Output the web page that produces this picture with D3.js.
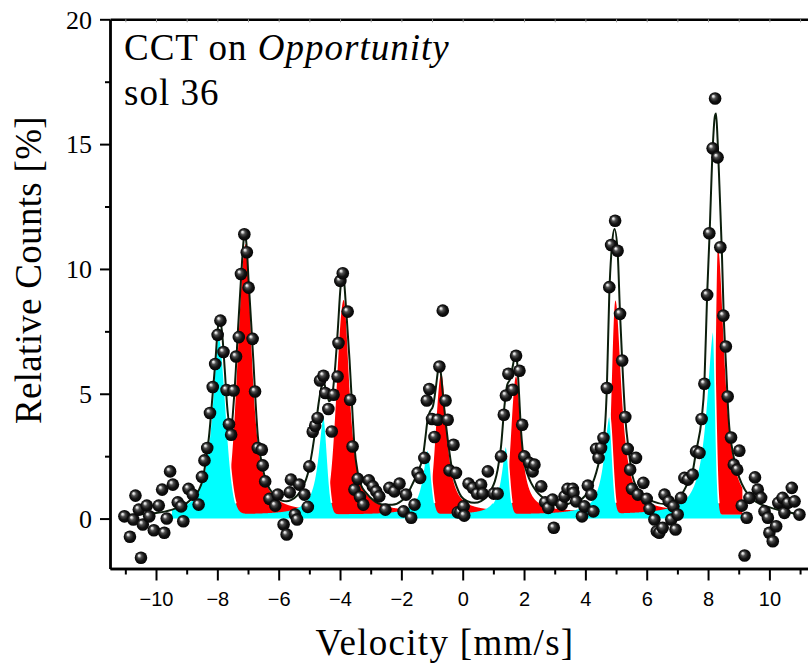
<!DOCTYPE html>
<html>
<head>
<meta charset="utf-8">
<script src="https://cdn.jsdelivr.net/npm/d3@7/dist/d3.min.js"></script>
<style>
  html, body { margin: 0; padding: 0; background: #fff; }
  svg { display: block; }
  .serif { font-family: "Liberation Serif", "Times New Roman", serif; }
  .sans { font-family: "Liberation Sans", Arial, sans-serif; }
</style>
</head>
<body>
<svg id="chart" width="808" height="665"></svg>
<script>
// measured spectrum, velocity [mm/s] and relative counts [%]
var velocity = [-11.03,-10.85,-10.74,-10.67,-10.56,-10.49,-10.43,-10.30,-10.22,-10.07,-9.91,-9.80,-9.73,-9.65,-9.54,-9.45,-9.29,-9.18,-9.11,-8.94,
  -8.80,-8.61,-8.50,-8.42,-8.33,-8.24,-8.15,-8.07,-7.99,-7.90,-7.80,-7.70,-7.62,-7.55,-7.47,-7.39,-7.30,-7.23,-7.12,-7.04,
  -6.98,-6.85,-6.77,-6.68,-6.55,-6.52,-6.44,-6.30,-6.11,-6.03,-5.84,-5.74,-5.64,-5.60,-5.47,-5.40,-5.33,-5.16,-5.05,-5.00,
  -4.89,-4.81,-4.73,-4.65,-4.54,-4.48,-4.38,-4.27,-4.21,-4.08,-4.05,-3.99,-3.91,-3.75,-3.67,-3.59,-3.53,-3.42,-3.35,-3.24,
  -3.06,-2.93,-2.82,-2.72,-2.52,-2.39,-2.23,-2.06,-1.93,-1.85,-1.68,-1.57,-1.47,-1.39,-1.25,-1.17,-1.09,-1.00,-0.92,-0.82,
  -0.76,-0.65,-0.56,-0.49,-0.43,-0.30,-0.22,-0.16,-0.08,0.03,0.05,0.19,0.33,0.47,0.60,0.65,0.82,1.01,1.14,1.25,
  1.34,1.41,1.49,1.63,1.74,1.85,1.94,2.01,2.17,2.28,2.34,2.56,2.69,2.79,2.93,2.97,3.23,3.32,3.42,3.59,
  3.61,3.70,3.89,3.97,4.08,4.19,4.26,4.35,4.43,4.51,4.59,4.70,4.78,4.84,4.97,5.05,5.13,5.20,5.30,5.38,
  5.46,5.52,5.65,5.71,5.89,6.00,6.09,6.25,6.33,6.41,6.52,6.58,6.72,6.80,6.87,6.94,7.01,7.12,7.23,7.34,
  7.50,7.61,7.72,7.79,7.88,7.97,8.04,8.15,8.23,8.31,8.40,8.50,8.58,8.64,8.75,8.84,8.95,9.02,9.10,9.19,
  9.26,9.35,9.53,9.62,9.73,9.84,9.95,10.00,10.11,10.22,10.29,10.43,10.49,10.60,10.73,10.82,10.98];
var counts = [0.09,-0.73,-0.04,0.92,0.36,-1.57,-0.24,0.52,0.09,-0.47,0.52,1.16,-0.57,0.00,1.89,1.36,0.65,0.49,-0.11,1.19,
  0.96,0.56,1.67,2.33,2.83,4.23,5.27,6.19,7.36,7.93,6.67,5.15,3.78,3.36,5.13,6.49,7.27,9.80,11.39,10.67,
  9.25,7.20,5.09,2.83,2.76,2.13,1.49,0.79,0.52,0.96,-0.24,-0.64,1.05,1.56,0.16,-0.04,1.36,0.96,0.47,2.09,
  3.48,3.72,4.03,5.53,5.72,5.03,4.39,3.49,4.96,5.69,7.03,9.52,9.83,8.29,4.76,2.89,1.16,1.59,0.87,0.56,
  1.53,1.29,1.09,0.89,0.36,1.23,1.09,1.40,0.29,0.96,0.03,0.56,1.83,1.63,2.43,4.73,5.19,3.99,3.27,3.96,
  6.09,8.33,4.73,3.96,1.93,2.96,1.83,0.25,0.25,0.49,0.12,1.40,1.23,1.00,1.36,1.00,1.89,1.00,1.00,2.49,
  4.16,4.93,5.80,5.16,6.52,5.92,3.76,2.49,2.23,1.89,2.16,1.29,0.65,0.43,0.76,-0.37,0.56,0.89,1.19,1.19,
  1.03,0.69,0.09,0.49,1.32,0.96,0.29,2.79,2.43,2.83,3.23,5.23,9.27,10.96,11.93,10.73,8.20,6.33,4.07,2.79,
  1.96,1.19,2.43,0.96,1.43,0.79,0.39,-0.04,-0.51,-0.57,-0.37,0.96,0.69,-0.04,0.49,-0.44,0.16,0.83,1.63,1.56,
  1.76,2.69,2.63,3.99,5.40,8.96,11.43,14.83,16.83,14.47,10.87,8.13,6.89,4.89,3.25,2.16,1.96,2.72,0.52,-1.48,
  0.03,0.83,1.65,1.16,0.83,0.29,0.03,-0.57,-0.91,-0.31,0.63,0.83,0.23,0.63,1.23,0.69,0.16];

// total fit curve
var fitVelocity = [-11.03,-10.5,-10.0,-9.5,-9.0,-8.75,-8.6,-8.48,-8.37,-8.26,-8.15,-8.06,-7.99,-7.93,-7.85,-7.76,-7.68,-7.6,-7.53,-7.47,
  -7.4,-7.33,-7.23,-7.14,-7.1,-7.05,-6.98,-6.9,-6.82,-6.75,-6.68,-6.58,-6.45,-6.3,-6.1,-5.9,-5.75,-5.6,-5.4,-5.2,
  -5.05,-4.92,-4.8,-4.7,-4.6,-4.53,-4.45,-4.35,-4.26,-4.17,-4.07,-3.98,-3.91,-3.86,-3.8,-3.69,-3.6,-3.53,-3.42,-3.3,
  -3.15,-2.9,-2.6,-2.3,-2.0,-1.8,-1.65,-1.52,-1.4,-1.3,-1.22,-1.14,-1.06,-0.97,-0.88,-0.8,-0.76,-0.71,-0.65,-0.54,
  -0.43,-0.33,-0.16,-0.05,0.15,0.38,0.6,0.8,0.93,1.05,1.14,1.25,1.36,1.45,1.55,1.64,1.72,1.78,1.83,1.9,
  2.01,2.12,2.23,2.4,2.56,2.8,2.99,3.2,3.5,3.9,4.1,4.24,4.46,4.62,4.7,4.78,4.87,4.95,5.05,5.13,
  5.2,5.3,5.41,5.54,5.68,5.82,6.0,6.2,6.6,6.9,7.1,7.34,7.5,7.61,7.79,7.88,7.97,8.05,8.15,8.22,
  8.26,8.31,8.37,8.45,8.51,8.59,8.67,8.8,9.02,9.2,9.4,9.7,10.06,10.5,10.98];
var fitCounts = [0.14,0.17,0.22,0.35,0.62,0.9,1.15,1.56,2.36,3.43,5.03,6.36,7.56,7.96,7.5,6.0,4.5,3.75,3.8,4.6,
  5.9,7.5,9.57,11.17,11.36,11.0,9.5,7.9,6.2,4.6,3.3,2.4,1.65,1.2,0.9,0.72,0.69,0.74,0.92,1.3,
  1.8,2.6,3.6,4.6,5.3,5.45,5.1,4.7,4.9,5.9,7.6,9.3,9.75,9.4,8.36,6.36,4.36,2.9,1.83,1.3,
  1.03,0.72,0.56,0.55,0.7,0.98,1.35,1.69,2.05,2.45,3.2,4.0,4.3,4.5,5.2,5.95,6.1,5.8,5.03,3.7,
  2.63,1.83,1.16,0.89,0.7,0.63,0.7,0.92,1.16,1.5,1.96,2.89,4.49,5.35,5.6,6.15,6.63,6.2,5.16,3.56,
  2.23,1.75,1.43,1.1,0.89,0.68,0.56,0.5,0.62,0.8,1.1,1.43,2.36,3.4,5.23,9.0,11.0,11.6,10.73,8.2,
  6.33,4.07,2.76,1.69,1.25,1.03,0.82,0.69,0.58,0.7,0.9,1.43,1.9,2.69,3.99,5.4,8.96,11.4,14.8,16.1,
  16.23,15.2,13.36,10.7,8.16,6.03,4.03,2.69,1.63,1.15,0.83,0.58,0.43,0.28,0.16];

// sub-spectra (cyan and red sextets): line positions, heights, half widths left/right
var cyanCenter = [-7.96, -4.54, -1.14, 1.41, 4.78, 8.17];
var cyanHeight = [7.2, 4.0, 2.6, 2.75, 3.95, 7.45];
var cyanWidthL = [0.26, 0.22, 0.21, 0.19, 0.23, 0.28];
var cyanWidthR = [0.28, 0.15, 0.14, 0.12, 0.12, 0.09];
var redCenter = [-7.07, -3.88, -0.7, 1.74, 4.98, 8.32];
var redHeight = [10.75, 8.45, 5.5, 5.38, 8.45, 10.55];
var redWidthL = [0.3, 0.26, 0.2, 0.18, 0.14, 0.08];
var redWidthR = [0.23, 0.22, 0.21, 0.19, 0.23, 0.25];
var subFloor = 0.15;   // level the sub-spectra sit on
var redBand = 0.1;     // extra red level between lines
var subRange = [-9.48, 9.12];
var redStart = -7.9;

var yMajor = [0, 5, 10, 15, 20];
var yMinor = [2.5, 7.5, 12.5, 17.5];
var xMajor = [-10, -8, -6, -4, -2, 0, 2, 4, 6, 8, 10];
var xMinor = [-11, -9, -7, -5, -3, -1, 1, 3, 5, 7, 9, 11];

var svg = d3.select('#chart');
var x = d3.scaleLinear().domain([-11.5, 11.5]).range([110, 815.4]);
var y = d3.scaleLinear().domain([-2, 20]).range([568.5, 19.3]);

var defs = svg.append('defs');
defs.append('clipPath').attr('id', 'plotClip')
  .append('rect').attr('x', 110).attr('y', 19.3).attr('width', 720).attr('height', 549.2);
var grad = defs.append('radialGradient').attr('id', 'ball')
  .attr('cx', 0.5).attr('cy', 0.5).attr('r', 0.55).attr('fx', 0.33).attr('fy', 0.3);
[[0, '#ffffff'], [0.14, '#cfcfcf'], [0.32, '#505050'], [0.62, '#141414'], [1, '#000000']].forEach(function(s) {
  grad.append('stop').attr('offset', s[0]).attr('stop-color', s[1]);
});

// cyan lines: lorentzian tail on the left, steep on the right; red lines the other way round
function cyanAt(v) {
  var s = 0;
  for (var i = 0; i < cyanCenter.length; i++) {
    var d = v - cyanCenter[i];
    if (d < 0) s += cyanHeight[i] / (1 + Math.pow(d / cyanWidthL[i], 2));
    else s += cyanHeight[i] * Math.exp(-Math.LN2 * Math.pow(d / cyanWidthR[i], 2));
  }
  return subFloor + s;
}
function redAt(v) {
  var s = 0;
  for (var i = 0; i < redCenter.length; i++) {
    var d = v - redCenter[i];
    if (d < 0) s += redHeight[i] * Math.exp(-Math.LN2 * Math.pow(d / redWidthL[i], 2));
    else s += redHeight[i] / (1 + Math.pow(d / redWidthR[i], 2));
  }
  return subFloor + redBand + s;
}

var grid = d3.range(subRange[0], subRange[1] + 0.0001, 0.005);
var cyanPts = grid.map(function(v) { return {v: v, c: cyanAt(v)}; });
var redPts = grid.filter(function(v) { return v > redStart; }).map(function(v) { return {v: v, r: redAt(v)}; });

var plot = svg.append('g').attr('clip-path', 'url(#plotClip)');

plot.append('path')
  .datum(redPts)
  .attr('fill', '#ff0000')
  .attr('d', d3.area().x(function(d) { return x(d.v); }).y0(y(subFloor)).y1(function(d) { return y(d.r); }));

plot.append('path')
  .datum(cyanPts)
  .attr('fill', '#00ffff')
  .attr('d', d3.area().x(function(d) { return x(d.v); }).y0(y(0)).y1(function(d) { return y(d.c); }));

plot.append('path')
  .datum(cyanPts)
  .attr('fill', 'none')
  .attr('stroke', '#ffffff')
  .attr('stroke-width', 1.6)
  .attr('d', d3.line()
    .defined(function(d) { return d.c - subFloor > 0.45; })
    .x(function(d) { return x(d.v); }).y(function(d) { return y(d.c); }));

var fit = fitVelocity.map(function(v, i) { return [v, fitCounts[i]]; });
plot.append('path')
  .datum(fit)
  .attr('fill', 'none')
  .attr('stroke', '#0c1e0c')
  .attr('stroke-width', 2)
  .attr('stroke-linejoin', 'round')
  .attr('d', d3.line().curve(d3.curveMonotoneX)
    .x(function(d) { return x(d[0]); }).y(function(d) { return y(d[1]); }));

var pts = velocity.map(function(v, i) { return [v, counts[i]]; });
plot.append('g').selectAll('circle')
  .data(pts)
  .enter()
  .append('circle')
  .attr('cx', function(d) { return x(d[0]); })
  .attr('cy', function(d) { return y(d[1]); })
  .attr('r', 6.3)
  .attr('fill', 'url(#ball)');

// axes
function styleAxis(g) {
  g.selectAll('path.domain').attr('stroke', '#000').attr('stroke-width', 2.4);
  g.selectAll('.tick line').attr('stroke', '#000').attr('stroke-width', 2);
}

var yAx = svg.append('g').attr('transform', 'translate(110,0)')
  .call(d3.axisLeft(y).tickValues(yMajor).tickSize(10).tickSizeOuter(0).tickPadding(8));
yAx.call(styleAxis);
yAx.selectAll('.tick text').attr('class', 'serif').attr('font-size', 26).attr('fill', '#000')
  .attr('dy', '0.34em');
svg.append('g').attr('transform', 'translate(110,0)')
  .call(d3.axisLeft(y).tickValues(yMinor).tickSize(5).tickSizeOuter(0).tickFormat(''))
  .call(styleAxis);

var xAx = svg.append('g').attr('transform', 'translate(0,568.5)')
  .call(d3.axisBottom(x).tickValues(xMajor).tickSize(12).tickSizeOuter(0).tickPadding(10));
xAx.call(styleAxis);
xAx.selectAll('.tick text').attr('class', 'sans').attr('font-size', 20).attr('fill', '#000')
  .attr('dy', '0.75em');
svg.append('g').attr('transform', 'translate(0,568.5)')
  .call(d3.axisBottom(x).tickValues(xMinor).tickSize(6).tickSizeOuter(0).tickFormat(''))
  .call(styleAxis);

var topAx = svg.append('g').attr('transform', 'translate(0,19.3)')
  .call(d3.axisTop(x).tickValues(d3.range(-11, 12)).tickSize(-3).tickSizeOuter(0).tickFormat(''));
topAx.call(styleAxis);
topAx.selectAll('.tick line').attr('stroke', '#999').attr('stroke-width', 1);

// labels
svg.append('text').attr('class', 'serif')
  .attr('transform', 'translate(41,270) rotate(-90)')
  .attr('text-anchor', 'middle').attr('font-size', 37).attr('letter-spacing', 0.3)
  .text('Relative Counts [%]');
svg.append('text').attr('class', 'serif')
  .attr('x', 445).attr('y', 655)
  .attr('text-anchor', 'middle').attr('font-size', 37).attr('letter-spacing', 1.3)
  .text('Velocity [mm/s]');

var ann = svg.append('text').attr('class', 'serif').attr('font-size', 37).attr('letter-spacing', 1)
  .attr('x', 124).attr('y', 60);
ann.append('tspan').text('CCT on ');
ann.append('tspan').attr('font-style', 'italic').text('Opportunity');
svg.append('text').attr('class', 'serif').attr('font-size', 37).attr('letter-spacing', 1)
  .attr('x', 124).attr('y', 105).text('sol 36');
</script>
</body>
</html>
